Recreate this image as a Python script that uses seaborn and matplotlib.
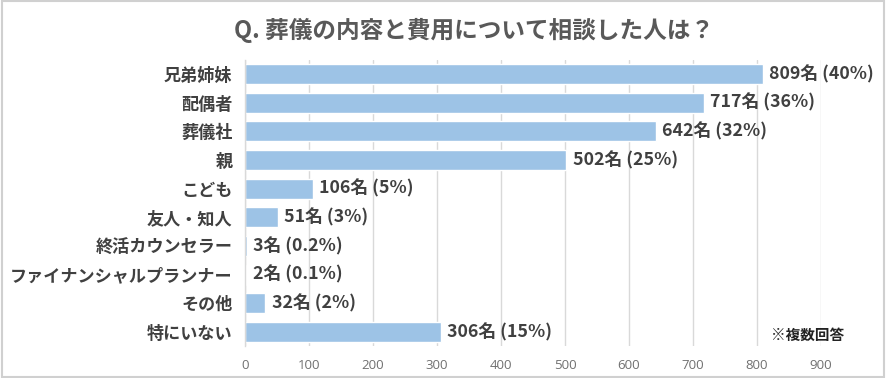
import matplotlib
matplotlib.use("Agg")
import matplotlib.pyplot as plt
import seaborn as sns
import pandas as pd
from matplotlib.patches import Rectangle

categories = ["兄弟姉妹", "配偶者", "葬儀社", "親", "こども", "友人・知人",
              "終活カウンセラー", "ファイナンシャルプランナー", "その他", "特にいない"]
counts = [809, 717, 642, 502, 106, 51, 3, 2, 32, 306]
percents = ["40", "36", "32", "25", "5", "3", "0.2", "0.1", "2", "15"]
xticks = [0, 100, 200, 300, 400, 500, 600, 700, 800, 900]

df = pd.DataFrame({"cat": categories, "n": counts})

sns.set_theme(style="white")
plt.rcParams['font.family'] = ['Noto Sans CJK JP', 'DejaVu Sans']

fig = plt.figure(figsize=(8.86, 3.78), dpi=100)
ax = fig.add_axes([0.2765, 0.084, 0.6501, 0.758])

sns.barplot(data=df, x="n", y="cat", orient="h", color="#9DC3E6",
            saturation=1, width=0.7, ax=ax, order=categories)

ax.set_xlim(0, 900)
ax.set_ylim(len(categories) - 0.5, -0.5)
ax.set_xticks(xticks)
ax.set_xticklabels([str(t) for t in xticks], fontsize=9.5, color="#707070",
                   family=['Open Sans', 'DejaVu Sans'])
ax.tick_params(axis='x', length=0, pad=9)
ax.tick_params(axis='y', length=0, pad=9)
for lbl in ax.get_yticklabels():
    lbl.set_fontsize(12.3)
    lbl.set_fontweight("bold")
    lbl.set_color("#404040")
ax.set_xlabel("")
ax.set_ylabel("")
ax.grid(axis='x', color="#d9d9d9", linewidth=1)
ax.set_axisbelow(True)
for s in ["top", "right", "bottom"]:
    ax.spines[s].set_visible(False)
ax.spines["left"].set_color("#d9d9d9")
ax.spines["left"].set_linewidth(1)

for i, (c, p) in enumerate(zip(counts, percents)):
    ax.text(c + 10, i, f"{c}名 ({p}%)", va="center", ha="left",
            fontsize=12.8, fontweight="bold", color="#404040")

fig.text(0.535, 0.92, "Q. 葬儀の内容と費用について相談した人は？", ha="center", va="center",
         fontsize=17, fontweight="bold", color="#595959")
fig.text(0.911, 0.113, "※複数回答", ha="center", va="center",
         fontsize=10.5, fontweight="bold", color="#222222")

fig.patches.append(Rectangle((0.002, 0.003), 0.996, 0.994, transform=fig.transFigure,
                             fill=False, edgecolor="#d0d0d0", linewidth=1.5))

fig.savefig("out.png", dpi=100)
